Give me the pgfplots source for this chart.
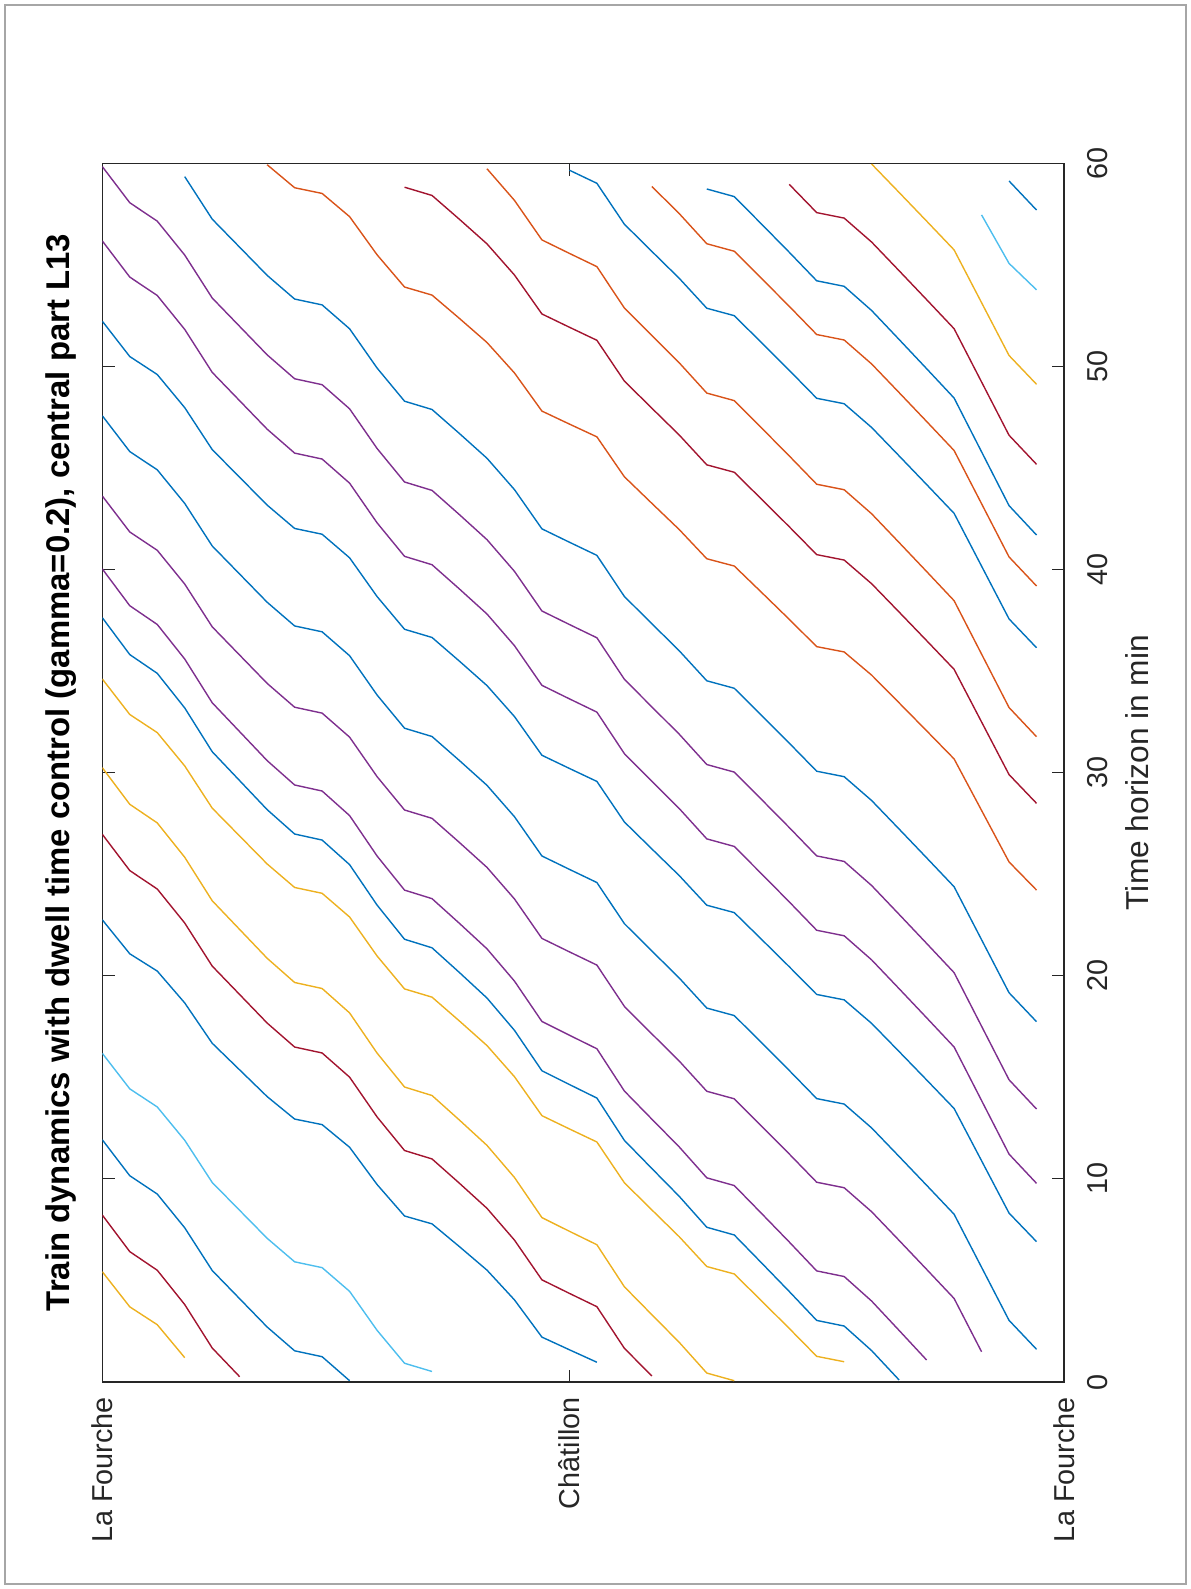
\documentclass[border=0pt]{standalone}
\usepackage{pgfplots}
\pgfplotsset{compat=1.18}
\usepackage{pgfplotstable}
\usepackage{fontspec}
\setmainfont{Liberation Sans}
\definecolor{mblue}{RGB}{0,114,189}
\definecolor{morange}{RGB}{217,83,25}
\definecolor{myellow}{RGB}{237,177,32}
\definecolor{mpurple}{RGB}{126,47,142}
\definecolor{mlightblue}{RGB}{77,190,238}
\definecolor{mdarkred}{RGB}{162,20,47}
\definecolor{axgray}{RGB}{38,38,38}
% running-time profile: minutes after passing node 34
\pgfplotstableread{
node P
34 0
33 1.43
32 4.05
31 6.67
30 8.10
29 9.52
28 10.93
27 12.11
26 12.38
25 13.77
24 15.13
23 16.48
22 16.85
21 18.33
20 19.67
19 21.02
18 23.05
17 23.70
16 24.36
15 26.30
14 27.85
13 29.07
12 30.26
11 30.67
10 32.31
9 34.25
8 35.43
7 35.72
6 36.89
5 38.28
4 39.67
3 41.77
2 43.43
1 44.33
0 46.10
}\profile
\newcommand{\train}[3]{\addplot[#1] table[x=node, y expr={#2+#3*\thisrow{P}}] {\profile};}
\begin{document}
\begin{tikzpicture}
\useasboundingbox (-51.15bp,-103.5bp) rectangle (544.35bp,691bp);
\draw[gray!70, line width=0.6bp] (-48.65bp,-101bp) rectangle (541.85bp,688.5bp);
\begin{axis}[
  at={(0,0)}, anchor=south west, scale only axis,
  width=480.85bp, height=609.35bp,
  xmin=0, xmax=35, ymin=0, ymax=60,
  xtick={0,17,35}, xticklabels={La Fourche,Châtillon,La Fourche},
  ytick={0,10,20,30,40,50,60},
  xtick pos=both, ytick pos=both, yticklabel pos=right,
  tick align=inside, major tick length=6.25bp,
  axis line style={axgray, line width=0.55bp},
  every tick/.style={axgray, line width=0.55bp},
  tick label style={font=\fontsize{14.45}{17}\selectfont, text=axgray},
  xticklabel style={rotate=90, anchor=east, inner xsep=7.3bp, inner ysep=0pt},
  yticklabel style={rotate=90, anchor=north, inner ysep=11.3bp, inner xsep=0pt},
  /pgf/number format/assume math mode=true,
  restrict y to domain=0:60,
  every axis plot/.append style={line width=0.7bp},
]
\train{myellow}{-39.61}{0.977}
\train{mdarkred}{-38.71}{1.018}
\train{mblue}{-34.22}{1.001}
\train{mlightblue}{-29.41}{0.989}
\train{mblue}{-20.81}{0.945}
\train{mdarkred}{-19.55}{1.009}
\train{myellow}{-16.73}{1.019}
\train{myellow}{-10.98}{0.989}
\train{mblue}{-9.67}{1.026}
\train{mpurple}{-7.22}{1.025}
\train{mpurple}{-2.57}{1.002}
\train{mblue}{1.61}{0.997}
\train{mblue}{6.91}{0.983}
\train{mpurple}{9.78}{1.0065}
\train{mpurple}{13.44}{1.0065}
\train{mblue}{17.74}{0.996}
\train{morange}{24.22}{0.968}
\train{mdarkred}{28.49}{0.989}
\train{morange}{31.77}{1.004}
\train{mblue}{36.15}{0.992}
\train{morange}{39.19}{1.0}
\train{mblue}{41.70}{1.011}
\train{mdarkred}{45.18}{1.001}
\train{myellow}{49.12}{0.992}
\addplot[mlightblue, restrict y to domain=0:58] table[x=node, y expr={53.77+0.911*\thisrow{P}}] {\profile};
\train{mblue}{57.70}{1.0}
\end{axis}
\node[rotate=90, anchor=base, font=\bfseries\fontsize{16.5}{19}\selectfont] at (-16.5bp,304.7bp)
  {Train dynamics with dwell time control (gamma=0.2), central part L13};
\node[rotate=90, anchor=base, text=axgray, font=\fontsize{15.9}{19}\selectfont] at (522.85bp,304.7bp)
  {Time horizon in min};
\end{tikzpicture}
\end{document}
